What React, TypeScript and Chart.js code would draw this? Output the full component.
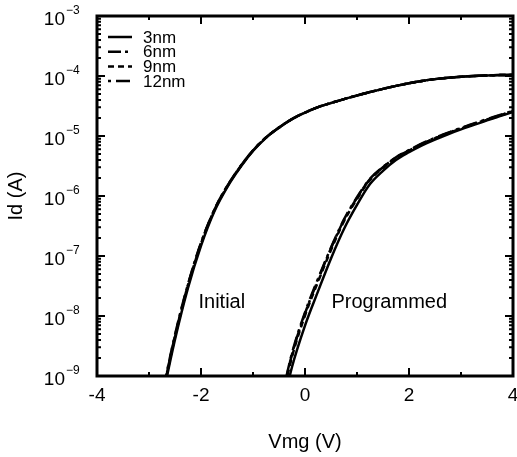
import React, { useEffect, useRef } from "react";
import { Chart, registerables } from "chart.js";

Chart.register(...registerables);

const FONT = '"Liberation Sans", Arial, Helvetica, sans-serif';

// Gate voltage grids (V)
const vInitial = [
  -2.75, -2.5, -2.25, -2, -1.75, -1.5, -1.25, -1, -0.75, -0.5, -0.25, 0, 0.25, 0.5,
  0.75, 1, 1.25, 1.5, 1.75, 2, 2.25, 2.5, 2.75, 3, 3.25, 3.5, 3.75, 4,
];
const vProgrammed = [
  -0.5, -0.25, 0, 0.25, 0.5, 0.75, 1, 1.25, 1.5, 1.75, 2, 2.25, 2.5, 2.75, 3, 3.25,
  3.5, 3.75, 4,
];

// Drain current Id (A) - initial state
const initial3nm = [
  3.98e-10, 4.07e-9, 2.95e-8, 1.48e-7, 5.37e-7, 1.38e-6, 2.95e-6, 5.62e-6, 9.33e-6, 1.38e-5,
  1.91e-5, 2.45e-5, 3.02e-5, 3.55e-5, 4.12e-5, 4.73e-5, 5.4e-5, 6.1e-5, 6.84e-5, 7.59e-5,
  8.28e-5, 8.87e-5, 9.33e-5, 9.7e-5, 1.0e-4, 1.019e-4, 1.035e-4, 1.047e-4,
];
const initial6nm = [
  4.58e-10, 4.68e-9, 3.3e-8, 1.63e-7, 5.69e-7, 1.44e-6, 3.04e-6, 5.73e-6, 9.42e-6, 1.38e-5,
  1.91e-5, 2.45e-5, 3.02e-5, 3.55e-5, 4.12e-5, 4.73e-5, 5.4e-5, 6.1e-5, 6.84e-5, 7.59e-5,
  8.28e-5, 8.87e-5, 9.33e-5, 9.7e-5, 1.0e-4, 1.019e-4, 1.035e-4, 1.047e-4,
];
const initial9nm = [
  4.38e-10, 4.48e-9, 3.2e-8, 1.6e-7, 5.6e-7, 1.42e-6, 3.0e-6, 5.7e-6, 9.4e-6, 1.38e-5,
  1.91e-5, 2.45e-5, 3.02e-5, 3.55e-5, 4.12e-5, 4.73e-5, 5.4e-5, 6.1e-5, 6.84e-5, 7.59e-5,
  8.28e-5, 8.87e-5, 9.33e-5, 9.7e-5, 1.0e-4, 1.019e-4, 1.035e-4, 1.047e-4,
];
const initial12nm = [
  4.78e-10, 4.88e-9, 3.4e-8, 1.66e-7, 5.75e-7, 1.45e-6, 3.06e-6, 5.76e-6, 9.45e-6, 1.39e-5,
  1.92e-5, 2.46e-5, 3.02e-5, 3.55e-5, 4.12e-5, 4.73e-5, 5.4e-5, 6.1e-5, 6.84e-5, 7.59e-5,
  8.28e-5, 8.87e-5, 9.33e-5, 9.7e-5, 1.0e-4, 1.019e-4, 1.035e-4, 1.047e-4,
];

// Drain current Id (A) - programmed state
const programmed3nm = [
  1.58e-10, 1.41e-9, 6.92e-9, 2.57e-8, 9.12e-8, 2.82e-7, 7.08e-7, 1.58e-6, 2.63e-6, 3.98e-6,
  5.37e-6, 7.0e-6, 8.71e-6, 1.07e-5, 1.29e-5, 1.53e-5, 1.82e-5, 2.14e-5, 2.51e-5,
];
const programmed6nm = [
  2.51e-10, 2.29e-9, 1.1e-8, 3.98e-8, 1.35e-7, 3.98e-7, 9.33e-7, 1.91e-6, 3.02e-6, 4.37e-6,
  5.75e-6, 7.41e-6, 9.23e-6, 1.12e-5, 1.35e-5, 1.6e-5, 1.88e-5, 2.21e-5, 2.6e-5,
];
const programmed9nm = [
  2.29e-10, 2.09e-9, 1.02e-8, 3.72e-8, 1.26e-7, 3.8e-7, 8.91e-7, 1.86e-6, 2.95e-6, 4.27e-6,
  5.69e-6, 7.33e-6, 9.12e-6, 1.11e-5, 1.33e-5, 1.58e-5, 1.86e-5, 2.19e-5, 2.57e-5,
];
const programmed12nm = [
  2.63e-10, 2.4e-9, 1.15e-8, 4.17e-8, 1.38e-7, 4.07e-7, 9.55e-7, 1.93e-6, 3.05e-6, 4.42e-6,
  5.82e-6, 7.5e-6, 9.33e-6, 1.14e-5, 1.36e-5, 1.62e-5, 1.91e-5, 2.24e-5, 2.63e-5,
];

const seriesLabels = ["3nm", "6nm", "9nm", "12nm"];
const initialSeries = [initial3nm, initial6nm, initial9nm, initial12nm];
const programmedSeries = [programmed3nm, programmed6nm, programmed9nm, programmed12nm];

const xTickValues = [-4, -2, 0, 2, 4];
const xMinorTickValues = [-3, -1, 1, 3];
const yDecadeExponents = [-9, -8, -7, -6, -5, -4, -3];

const curveLabels = ["Initial", "Programmed"];
const curveLabelX = [-1.6, 1.62];
const curveLabelY = [1.65e-8, 1.7e-8];

const dashPatterns: number[][] = [[], [13, 4, 3, 4], [6, 4], [3, 5, 14, 5]];

const framePlugin = {
  id: "frameAndLabels",
  afterDatasetsDraw(chart: any) {
    const { ctx, chartArea } = chart;
    const { left, right, top, bottom } = chartArea;
    const xs = chart.scales.x;
    const ys = chart.scales.y;
    ctx.save();
    ctx.strokeStyle = "#000";
    ctx.fillStyle = "#000";
    ctx.setLineDash([]);

    // inward ticks
    ctx.lineWidth = 2;
    const xt: [number, number][] = [
      ...xTickValues.map((v) => [v, 8] as [number, number]),
      ...xMinorTickValues.map((v) => [v, 4] as [number, number]),
    ];
    ctx.beginPath();
    for (const [v, len] of xt) {
      const px = xs.getPixelForValue(v);
      ctx.moveTo(px, bottom);
      ctx.lineTo(px, bottom - len);
      ctx.moveTo(px, top);
      ctx.lineTo(px, top + len);
    }
    for (let i = 0; i < yDecadeExponents.length; i++) {
      const e = yDecadeExponents[i];
      const ms = i === yDecadeExponents.length - 1 ? [1] : [1, 2, 3, 4, 5, 6, 7, 8, 9];
      for (const m of ms) {
        const py = ys.getPixelForValue(m * Math.pow(10, e));
        const len = m === 1 ? 8 : 4;
        ctx.moveTo(left, py);
        ctx.lineTo(left + len, py);
        ctx.moveTo(right, py);
        ctx.lineTo(right - len, py);
      }
    }
    ctx.stroke();

    // frame
    ctx.lineWidth = 3;
    ctx.strokeRect(left, top, right - left, bottom - top);

    // y tick labels with superscript exponents
    for (const e of yDecadeExponents) {
      const py = ys.getPixelForValue(Math.pow(10, e));
      ctx.font = `19px ${FONT}`;
      ctx.textAlign = "right";
      ctx.textBaseline = "alphabetic";
      ctx.fillText("10", left - 32, py + 9);
      ctx.font = `12px ${FONT}`;
      ctx.textAlign = "left";
      ctx.fillText("\u2212" + Math.abs(e), left - 31, py - 2);
    }

    // legend
    ctx.font = `17px ${FONT}`;
    ctx.textBaseline = "middle";
    ctx.textAlign = "left";
    for (let i = 0; i < seriesLabels.length; i++) {
      const y = top + 21 + i * 14.7;
      ctx.lineWidth = 2.5;
      ctx.setLineDash(dashPatterns[i]);
      ctx.beginPath();
      ctx.moveTo(left + 11, y);
      ctx.lineTo(left + 35, y);
      ctx.stroke();
      ctx.setLineDash([]);
      ctx.fillText(seriesLabels[i], left + 46, y + 1);
    }

    // curve annotations
    ctx.font = `20px ${FONT}`;
    ctx.textAlign = "center";
    for (let i = 0; i < curveLabels.length; i++) {
      ctx.fillText(
        curveLabels[i],
        xs.getPixelForValue(curveLabelX[i]),
        ys.getPixelForValue(curveLabelY[i])
      );
    }
    ctx.restore();
  },
};

export default function App() {
  const canvasRef = useRef<HTMLCanvasElement | null>(null);

  useEffect(() => {
    if (!canvasRef.current) return;
    Chart.defaults.font.family = FONT;
    Chart.defaults.color = "#000";

    const datasets: any[] = [];
    for (let i = seriesLabels.length - 1; i >= 0; i--) {
      const common = {
        borderColor: "#000",
        borderWidth: 2.5,
        borderDash: dashPatterns[i],
        pointRadius: 0,
        fill: false,
        tension: 0.35,
      };
      datasets.push({
        label: `${seriesLabels[i]} initial`,
        data: vInitial.map((v, k) => ({ x: v, y: initialSeries[i][k] })),
        ...common,
      });
      datasets.push({
        label: `${seriesLabels[i]} programmed`,
        data: vProgrammed.map((v, k) => ({ x: v, y: programmedSeries[i][k] })),
        ...common,
      });
    }

    const chart = new Chart(canvasRef.current, {
      type: "line",
      data: { datasets },
      options: {
        animation: false,
        responsive: false,
        devicePixelRatio: 1,
        layout: { padding: { top: 16, right: 4, left: 0, bottom: 0 } },
        plugins: { legend: { display: false }, tooltip: { enabled: false } },
        scales: {
          x: {
            type: "linear",
            min: -4,
            max: 4,
            grid: { display: false, drawTicks: false },
            border: { display: false },
            afterBuildTicks: (s: any) => {
              s.ticks = xTickValues.map((v) => ({ value: v }));
            },
            ticks: {
              font: { size: 19 },
              padding: 8,
              maxRotation: 0,
              autoSkip: false,
              callback: (v: any) => String(v),
            },
            title: {
              display: true,
              text: "Vmg (V)",
              font: { size: 20 },
              padding: { top: 0, bottom: 3 },
            },
            afterFit: (s: any) => {
              s.height = 81;
              s.paddingLeft = 0;
              s.paddingRight = 0;
            },
          },
          y: {
            type: "logarithmic",
            min: 1e-9,
            max: 1e-3,
            grid: { display: false, drawTicks: false },
            border: { display: false },
            ticks: { display: false },
            title: {
              display: true,
              text: "Id (A)",
              font: { size: 20 },
              padding: { top: 4, bottom: 0 },
            },
            afterFit: (s: any) => {
              s.width = 97;
              s.paddingTop = 0;
              s.paddingBottom = 0;
            },
          },
        },
      } as any,
      plugins: [framePlugin],
    });
    return () => chart.destroy();
  }, []);

  return (
    <div style={{ position: "absolute", left: 0, top: 0, width: 517, height: 457, background: "#fff" }}>
      <canvas ref={canvasRef} width={517} height={457} style={{ display: "block" }} />
    </div>
  );
}
